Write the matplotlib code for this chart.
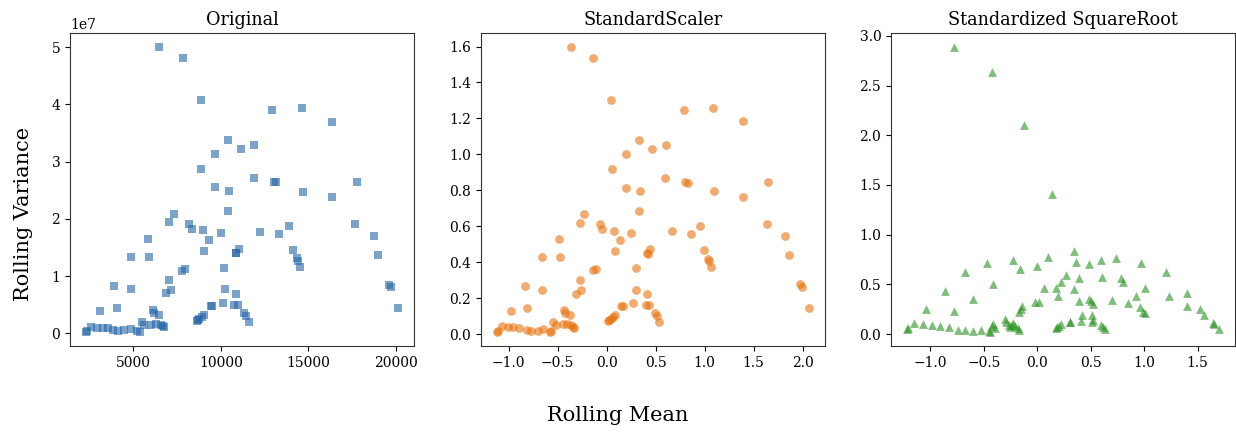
import matplotlib
matplotlib.use("Agg")
import matplotlib.pyplot as plt
from matplotlib.ticker import MultipleLocator

plt.rcParams['font.family'] = ['DejaVu Serif']

# Original: rolling mean / rolling variance (variance in units of 1e7)
orig_mean = [6500, 7830, 8860, 12940, 14610, 16360, 10400, 11180, 11920, 9660,
             8860, 11880, 13040, 13170, 9660, 10450, 14670, 16340, 17770, 10420,
             7320, 7050, 8190, 8330, 9010, 9330, 10000, 12260, 13340, 13890,
             17670, 18740, 18950, 5860, 4850, 5910, 9030, 11060, 10870, 10870,
             14120, 14350, 14390, 14500, 7770, 7960, 10190, 7050, 6860, 7130,
             3900, 4870, 3100, 4050, 19610, 19710, 20140, 10240, 10110, 10850,
             10780, 10970, 9450, 9500, 11310, 11440, 11590, 9030, 8910, 8780,
             8690, 8630, 2283, 2378, 2606, 2948, 3252, 3556, 3860, 4145,
             4468, 4848, 5228, 5361, 5475, 5608, 6140, 6178, 6463, 5988,
             6273, 6558, 6672, 6748]
orig_var = [5.00, 4.81, 4.08, 3.91, 3.94, 3.70, 3.38, 3.23, 3.29, 3.14,
            2.87, 2.72, 2.65, 2.64, 2.55, 2.49, 2.48, 2.38, 2.65, 2.14,
            2.08, 1.94, 1.92, 1.82, 1.80, 1.64, 1.75, 1.78, 1.74, 1.88,
            1.91, 1.70, 1.37, 1.65, 1.34, 1.34, 1.44, 1.48, 1.41, 1.40,
            1.46, 1.31, 1.27, 1.16, 1.10, 1.13, 1.14, 0.93, 0.70, 0.76,
            0.83, 0.77, 0.40, 0.45, 0.84, 0.81, 0.44, 0.77, 0.53, 0.69,
            0.49, 0.49, 0.48, 0.48, 0.35, 0.31, 0.20, 0.32, 0.29, 0.25,
            0.23, 0.22, 0.03, 0.05, 0.12, 0.10, 0.10, 0.09, 0.06, 0.05,
            0.06, 0.07, 0.04, 0.03, 0.20, 0.15, 0.41, 0.35, 0.32, 0.15,
            0.17, 0.15, 0.13, 0.12]
orig_var = [v * 1e7 for v in orig_var]

# StandardScaler
std_mean = [-0.367, -0.136, 0.048, 0.786, 1.082, 1.391, 0.327, 0.466, 0.602, 0.197,
            0.051, 0.592, 0.799, 0.827, 0.197, 0.337, 1.092, 1.391, 1.646, 0.327,
            -0.228, -0.269, -0.068, -0.044, 0.078, 0.136, 0.252, 0.663, 0.857, 0.956,
            1.633, 1.823, 1.857, -0.483, -0.660, -0.473, 0.082, 0.446, 0.412, 0.418,
            0.993, 1.034, 1.048, 1.068, -0.143, -0.105, 0.296, -0.269, -0.310, -0.259,
            -0.837, -0.656, -0.980, -0.810, 1.973, 1.997, 2.068, 0.299, 0.272, 0.408,
            0.398, 0.429, 0.150, 0.167, 0.493, 0.510, 0.537, 0.082, 0.065, 0.041,
            0.024, 0.014, -1.122, -1.105, -1.065, -1.007, -0.952, -0.895, -0.816, -0.776,
            -0.701, -0.646, -0.578, -0.565, -0.551, -0.520, -0.435, -0.429, -0.374, -0.442,
            -0.401, -0.361, -0.340, -0.330]
std_var = [1.596, 1.535, 1.304, 1.248, 1.257, 1.183, 1.081, 1.031, 1.052, 1.004,
           0.917, 0.870, 0.848, 0.843, 0.815, 0.796, 0.794, 0.763, 0.848, 0.685,
           0.667, 0.620, 0.615, 0.583, 0.576, 0.526, 0.561, 0.572, 0.559, 0.604,
           0.611, 0.544, 0.439, 0.530, 0.428, 0.428, 0.463, 0.472, 0.454, 0.448,
           0.469, 0.420, 0.407, 0.374, 0.356, 0.365, 0.367, 0.300, 0.222, 0.244,
           0.267, 0.248, 0.130, 0.144, 0.276, 0.263, 0.143, 0.248, 0.174, 0.222,
           0.161, 0.161, 0.156, 0.156, 0.115, 0.102, 0.069, 0.106, 0.096, 0.083,
           0.078, 0.074, 0.013, 0.019, 0.044, 0.037, 0.037, 0.035, 0.022, 0.019,
           0.019, 0.026, 0.013, 0.019, 0.069, 0.050, 0.133, 0.115, 0.104, 0.056,
           0.059, 0.050, 0.041, 0.035]

# Standardized SquareRoot
sqrt_mean = [-0.781, -0.428, -0.125, 0.138, 0.347, 0.100, 0.363, -0.466, -0.225, 0.594,
             0.734, 0.969, 1.203, 0.000, 0.484, -0.159, -0.672, 0.266, 0.394, 0.609,
             0.781, 0.803, -0.413, 0.222, 0.063, 0.344, 1.009, -0.863, 0.178, 0.197,
             1.228, 1.400, 0.919, -0.603, 0.391, 0.697, 0.850, 0.484, 0.500, 0.525,
             -0.022, 0.013, -0.141, -0.153, -0.172, -1.041, -0.781, 0.959, 0.991, 1.009,
             1.400, 1.522, 1.559, 1.644, 1.650, 1.703, 0.416, 0.409, 0.509, 0.519,
             0.516, 0.303, 0.309, 0.219, 0.203, 0.184, 0.175, 0.600, 0.616, 0.634,
             -0.300, -0.291, -0.228, -0.234, -0.206, -0.184, -0.172, -0.269, -0.253, -0.428,
             -0.413, -0.391, -0.438, -0.447, -1.222, -1.206, -1.150, -1.072, -0.984, -0.906,
             -0.828, -0.744, -0.672, -0.597, -0.522]
sqrt_var = [2.886, 2.641, 2.107, 1.409, 0.839, 0.775, 0.725, 0.718, 0.745, 0.745,
            0.762, 0.718, 0.628, 0.685, 0.701, 0.651, 0.621, 0.594, 0.567, 0.570,
            0.567, 0.520, 0.507, 0.520, 0.466, 0.453, 0.460, 0.436, 0.460, 0.383,
            0.386, 0.409, 0.383, 0.349, 0.332, 0.342, 0.315, 0.349, 0.332, 0.302,
            0.322, 0.322, 0.282, 0.248, 0.225, 0.248, 0.235, 0.268, 0.225, 0.208,
            0.285, 0.248, 0.191, 0.114, 0.101, 0.054, 0.191, 0.134, 0.191, 0.141,
            0.117, 0.124, 0.117, 0.101, 0.081, 0.067, 0.060, 0.091, 0.067, 0.047,
            0.148, 0.124, 0.114, 0.091, 0.081, 0.057, 0.040, 0.091, 0.074, 0.081,
            0.101, 0.057, 0.023, 0.034, 0.047, 0.057, 0.114, 0.101, 0.091, 0.081,
            0.067, 0.040, 0.040, 0.034, 0.040]

fig = plt.figure(figsize=(12.36, 4.36), dpi=100)
ax1 = fig.add_axes([70 / 1236, 90 / 436, 344 / 1236, 313 / 436])
ax2 = fig.add_axes([481 / 1236, 90 / 436, 344 / 1236, 313 / 436])
ax3 = fig.add_axes([891 / 1236, 90 / 436, 344 / 1236, 313 / 436])

ax1.scatter(orig_mean, orig_var, marker='s', s=36, color='#2566a8', alpha=0.6, linewidths=0)
ax1.set_title('Original', fontsize=12.7)
ax1.xaxis.set_major_locator(MultipleLocator(5000))

ax2.scatter(std_mean, std_var, marker='o', s=40, color='#e8730f', alpha=0.6, linewidths=0)
ax2.set_title('StandardScaler', fontsize=12.7)

ax3.scatter(sqrt_mean, sqrt_var, marker='^', s=40, color='#2a9422', alpha=0.6, linewidths=0)
ax3.set_title('Standardized SquareRoot', fontsize=12.7)

for ax in (ax1, ax2, ax3):
    ax.tick_params(labelsize=10)
    for sp in ax.spines.values():
        sp.set_color('#333333')

fig.text(0.5, 0.035, 'Rolling Mean', ha='center', fontsize=15)
fig.text(0.019, 0.51, 'Rolling Variance', va='center', ha='center',
         rotation=90, fontsize=15)

fig.savefig('out.png', dpi=100)
